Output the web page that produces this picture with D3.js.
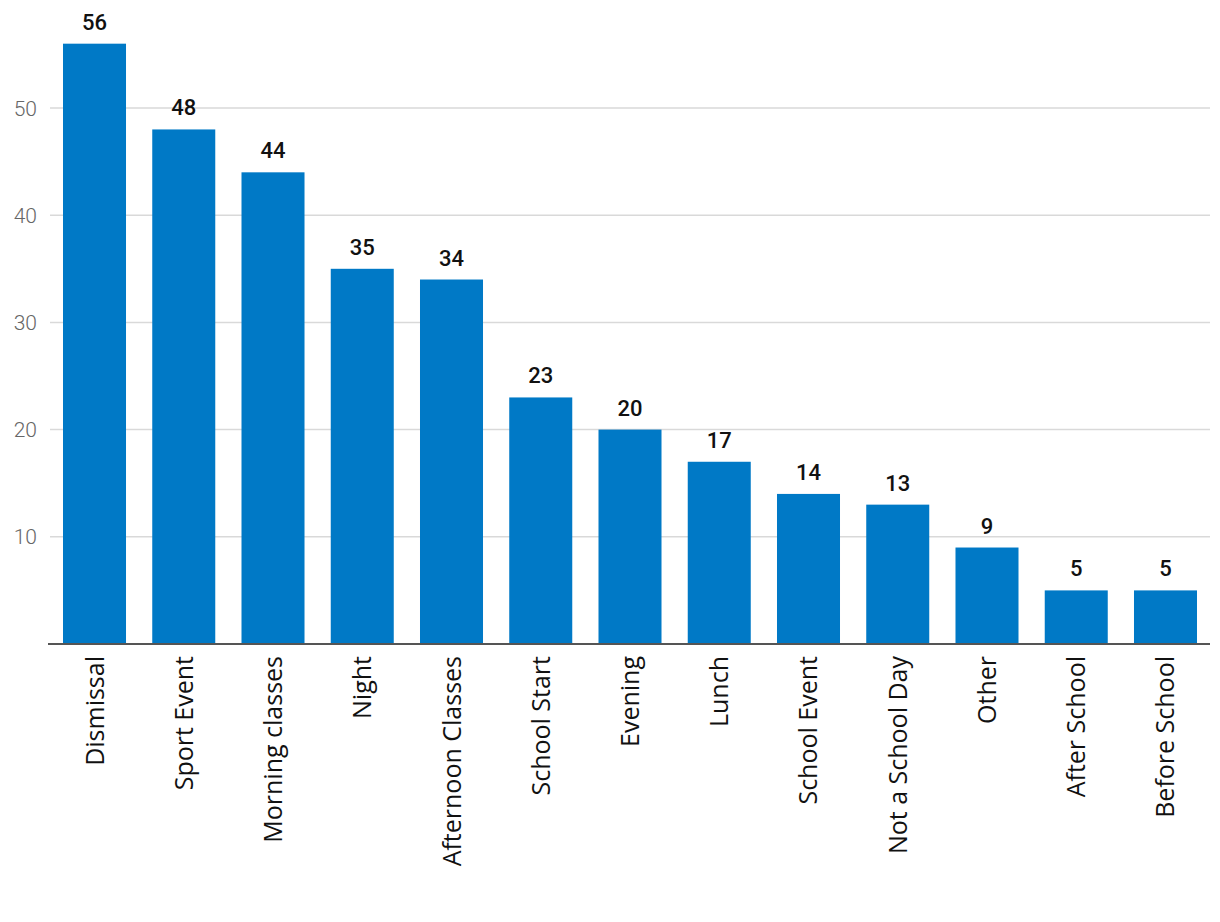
<!DOCTYPE html>
<html><head><meta charset="utf-8">
<script src="https://cdn.jsdelivr.net/npm/d3@7"></script>
<style>body{margin:0;background:#fff}</style>
</head><body>
<svg id="c" width="1220" height="922"></svg>
<script>
const categories = ["Dismissal","Sport Event","Morning classes","Night","Afternoon Classes","School Start","Evening","Lunch","School Event","Not a School Day","Other","After School","Before School"];
const values = [56,48,44,35,34,23,20,17,14,13,9,5,5];
const yTicks = [10,20,30,40,50];

const svg = d3.select("#c");
const x0 = 50, x1 = 1210, yBase = 644;
const x = d3.scaleBand().domain(categories).range([x0, x1]).paddingInner(0.294).paddingOuter(0.1457);
const y = d3.scaleLinear().domain([0, 50]).range([yBase, 108]);

// grid
svg.append("g").selectAll("line").data(yTicks).join("line")
  .attr("x1", x0).attr("x2", x1)
  .attr("y1", d => y(d)).attr("y2", d => y(d))
  .attr("stroke", "#d9d9d9").attr("stroke-width", 1.5);

svg.append("g").selectAll("text").data(yTicks).join("text")
  .attr("x", 37).attr("y", d => y(d)).attr("dy", "0.36em")
  .attr("text-anchor", "end")
  .attr("font-family", "Roboto, sans-serif").attr("font-weight", 300)
  .attr("font-size", 21).attr("fill", "#666")
  .text(d => d);

// bars
svg.append("g").selectAll("rect").data(values).join("rect")
  .attr("x", (d,i) => x(categories[i]))
  .attr("width", x.bandwidth())
  .attr("y", d => y(d))
  .attr("height", d => yBase - y(d))
  .attr("fill", "#0079c6");

// value labels
svg.append("g").selectAll("text").data(values).join("text")
  .attr("x", (d,i) => x(categories[i]) + x.bandwidth()/2)
  .attr("y", d => y(d) - 14)
  .attr("text-anchor", "middle")
  .attr("font-family", "Roboto, sans-serif").attr("font-weight", 500)
  .attr("font-size", 22).attr("fill", "#111")
  .text(d => d);

// baseline
svg.append("line").attr("x1", 48).attr("x2", x1).attr("y1", yBase).attr("y2", yBase)
  .attr("stroke", "#555").attr("stroke-width", 2);

// category labels
svg.append("g").selectAll("text").data(categories).join("text")
  .attr("transform", d => `translate(${x(d) + x.bandwidth()/2},${yBase + 12}) rotate(-90)`)
  .attr("text-anchor", "end").attr("dy", "0.36em")
  .attr("font-family", "'Open Sans', sans-serif").attr("font-weight", 500)
  .attr("font-size", 25).attr("fill", "#111")
  .text(d => d);
</script>
</body></html>
